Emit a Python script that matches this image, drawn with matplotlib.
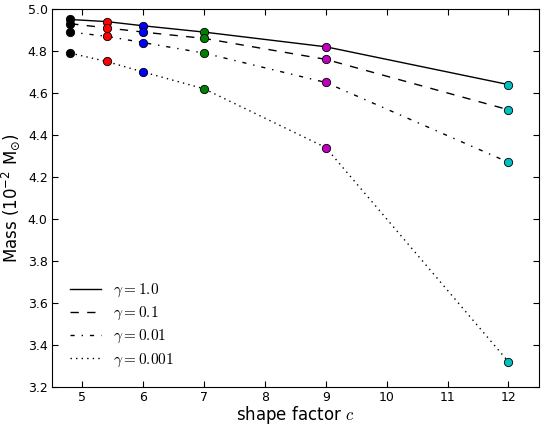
import numpy as np
import matplotlib
matplotlib.use('Agg')
import matplotlib.pyplot as plt

plt.rcParams['mathtext.fontset'] = 'cm'
plt.rcParams['xtick.direction'] = 'in'
plt.rcParams['ytick.direction'] = 'in'
plt.rcParams['xtick.top'] = True
plt.rcParams['ytick.right'] = True

# shape factor values and the masses for each gamma
shape_factor = [4.8, 5.4, 6.0, 7.0, 9.0, 12.0]
mass_g1 = [4.95, 4.94, 4.92, 4.89, 4.82, 4.64]
mass_g01 = [4.93, 4.91, 4.89, 4.86, 4.76, 4.52]
mass_g001 = [4.89, 4.87, 4.84, 4.79, 4.65, 4.27]
mass_g0001 = [4.79, 4.75, 4.70, 4.62, 4.34, 3.32]

labels = [r'$\gamma=1.0$', r'$\gamma=0.1$', r'$\gamma=0.01$', r'$\gamma=0.001$']
# old-style dash patterns
styles = ['-', (0, (6, 6)), (0, (3, 5, 1, 5)), (0, (1, 3))]
point_colors = ['k', 'r', 'b', (0, 0.5, 0), (0.75, 0, 0.75), (0, 0.75, 0.75)]

fig = plt.figure(figsize=(5.46, 4.24), dpi=100)
ax = fig.add_axes([0.095, 0.0873, 0.892, 0.8915])

all_mass = [mass_g1, mass_g01, mass_g001, mass_g0001]
for m, ls, lab in zip(all_mass, styles, labels):
    ax.plot(shape_factor, m, color='k', linestyle=ls, linewidth=1.0, label=lab)
    for x, y, c in zip(shape_factor, m, point_colors):
        ax.plot(x, y, 'o', color=c, markeredgecolor='k', markeredgewidth=0.6,
                markersize=6, zorder=3)

ax.set_xlim(4.5, 12.5)
ax.set_ylim(3.2, 5.0)
ax.set_xticks(range(5, 13))
ax.set_yticks(np.arange(3.2, 5.01, 0.2))
ax.tick_params(labelsize=9, length=4, pad=3)
ax.set_xlabel(r'shape factor $c$', fontsize=12)
ax.xaxis.set_label_coords(0.5, -0.046)
ax.set_ylabel(r'Mass ($10^{-2}\ \mathrm{M}_{\odot}$)', fontsize=12,
              math_fontfamily='dejavusans')
ax.yaxis.set_label_coords(-0.061, 0.5)
ax.legend(loc='lower left', frameon=False, fontsize=11, handlelength=2.0,
          borderaxespad=0.8, labelspacing=0.38)

fig.savefig('out.png', dpi=100)
